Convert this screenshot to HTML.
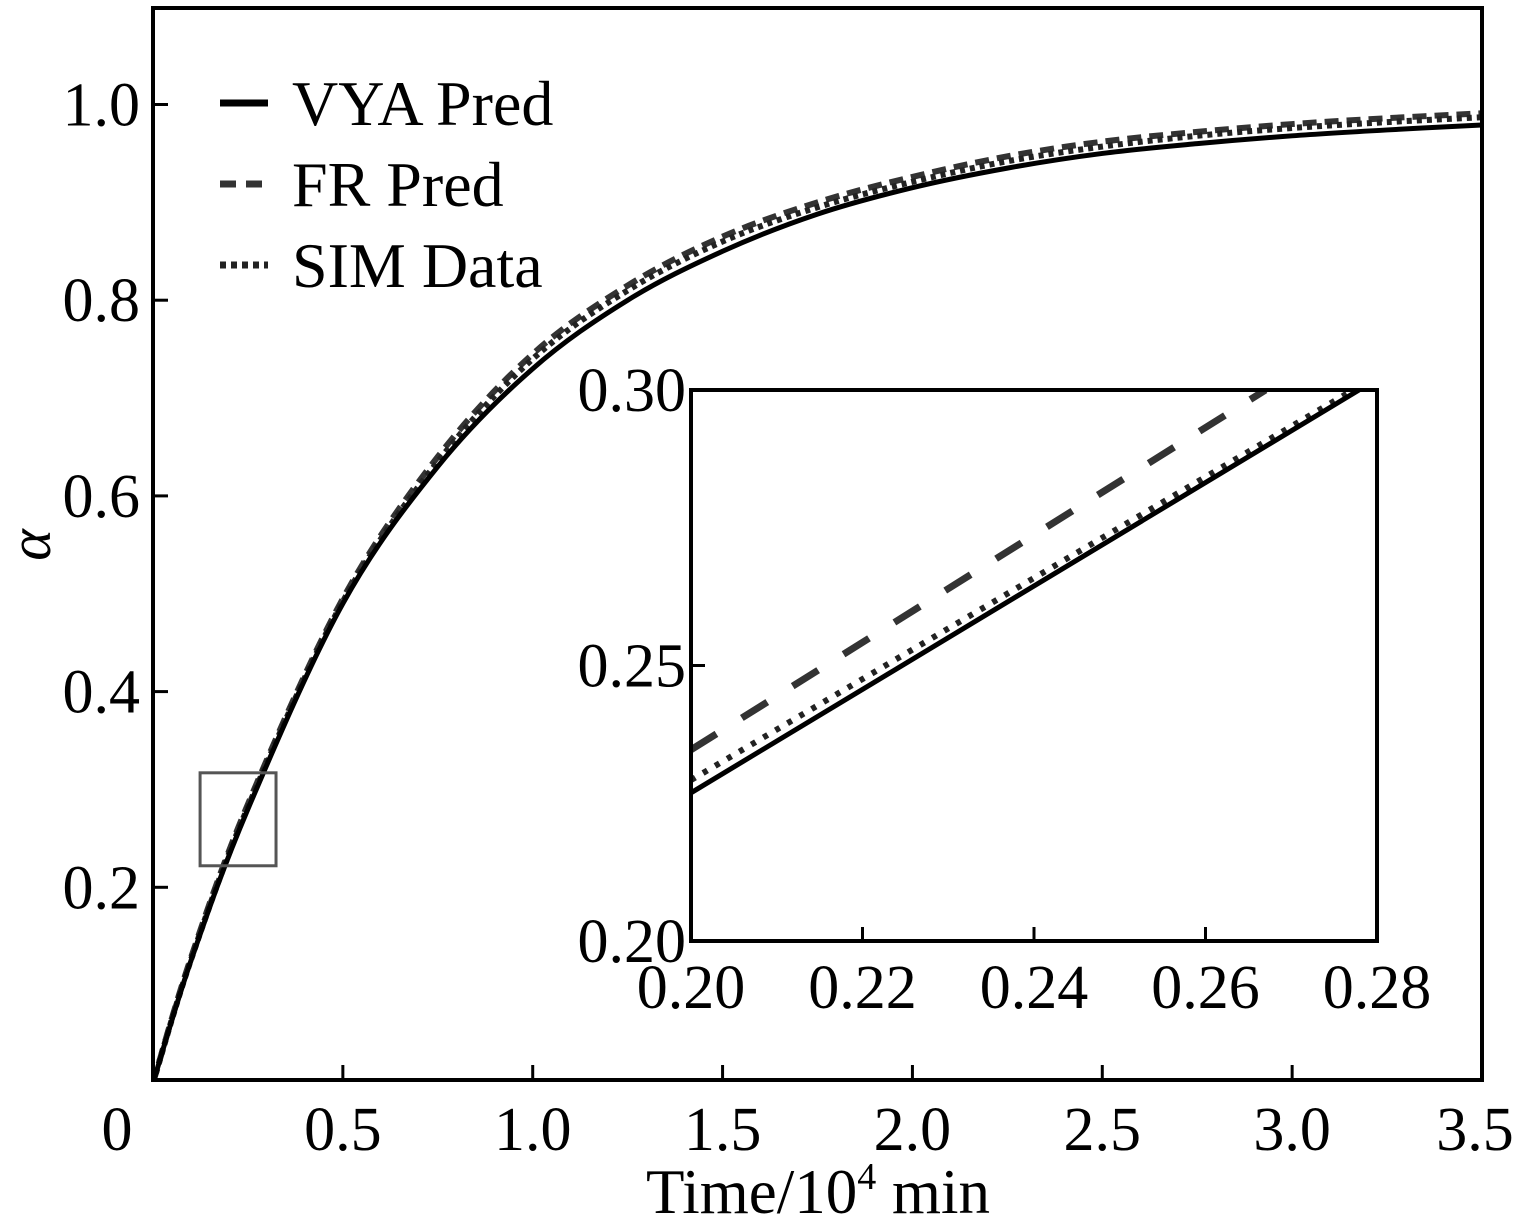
<!DOCTYPE html>
<html><head><meta charset="utf-8"><style>
html,body{margin:0;padding:0;background:#fff;}
svg{display:block;font-family:"Liberation Serif",serif;}
</style></head><body>
<svg id="chart" width="1523" height="1223" viewBox="0 0 1523 1223" xmlns="http://www.w3.org/2000/svg"></svg>
<script>
const times=[0,0.1,0.25,0.5,0.75,1.0,1.25,1.5,1.75,2.0,2.25,2.5,2.75,3.0,3.25,3.5];
const vyaVals=[0,0.125,0.28,0.49,0.63,0.73,0.80,0.85,0.888,0.915,0.935,0.950,0.960,0.968,0.974,0.979];
const frVals=[0,0.128,0.285,0.495,0.64,0.745,0.815,0.865,0.90,0.926,0.947,0.962,0.972,0.980,0.986,0.991];
const simVals=[0,0.126,0.282,0.492,0.635,0.74,0.81,0.86,0.895,0.921,0.942,0.957,0.968,0.976,0.982,0.987];
const xTicks=[0,0.5,1.0,1.5,2.0,2.5,3.0,3.5];
const xTickLabels=["0","0.5","1.0","1.5","2.0","2.5","3.0","3.5"];
const yTicks=[0.2,0.4,0.6,0.8,1.0];
const yTickLabels=["0.2","0.4","0.6","0.8","1.0"];
const insetX=[0.20,0.2779];
const insetVya=[0.2269,0.30];
const insetXsim=[0.20,0.2772];
const insetSim=[0.2292,0.30];
const insetXfr=[0.20,0.2670];
const insetFr=[0.2347,0.30];
const insetXTicks=[0.20,0.22,0.24,0.26,0.28];
const insetXTickLabels=["0.20","0.22","0.24","0.26","0.28"];
const insetYTicks=[0.20,0.25,0.30];
const insetYTickLabels=["0.20","0.25","0.30"];
const zoomBox=[0.124,0.324,0.222,0.317];

const NS="http://www.w3.org/2000/svg";
const svg=document.getElementById('chart');
function mk(tag,attrs,parent){const e=document.createElementNS(NS,tag);for(const k in attrs)e.setAttribute(k,attrs[k]);(parent||svg).appendChild(e);return e;}
const L=153,R=1482,T=8,B=1080;
const xs=v=>L+(v/3.5)*(R-L);
const ys=v=>1083-v*978.5;
const defs=mk('defs',{});
const cp=mk('clipPath',{id:'clipMain'},defs);
mk('rect',{x:L,y:T,width:R-L,height:B-T},cp);
const IL=691,IR=1377,IT=390,IB=941;
const cp2=mk('clipPath',{id:'clipInset'},defs);
mk('rect',{x:IL,y:IT,width:IR-IL,height:IB-IT},cp2);
function curve(tx,vals,fx,fy,style,name,g){
  const d=tx.map((t,i)=>(i?'L':'M')+fx(t).toFixed(1)+','+fy(vals[i]).toFixed(1)).join(' ');
  const p=mk('path',Object.assign({d:d,fill:'none'},style),g);
  
  
  return p;
}
function smooth(tx,vals,fx,fy,style,name,g){
  let d='M'+fx(tx[0])+','+fy(vals[0]);
  for(let i=0;i<tx.length-1;i++){
    const x0=fx(tx[Math.max(i-1,0)]),y0=fy(vals[Math.max(i-1,0)]);
    const x1=fx(tx[i]),y1=fy(vals[i]),x2=fx(tx[i+1]),y2=fy(vals[i+1]);
    const x3=fx(tx[Math.min(i+2,tx.length-1)]),y3=fy(vals[Math.min(i+2,tx.length-1)]);
    d+=` C${x1+(x2-x0)/6},${y1+(y2-y0)/6} ${x2-(x3-x1)/6},${y2-(y3-y1)/6} ${x2},${y2}`;
  }
  const p=mk('path',Object.assign({d:d,fill:'none'},style),g);
  
  
}
const gm=mk('g',{'clip-path':'url(#clipMain)'});
smooth(times,frVals,xs,ys,{stroke:'#333','stroke-width':6,'stroke-dasharray':'14 8'},'fr-pred-line',gm);
smooth(times,simVals,xs,ys,{stroke:'#222','stroke-width':6,'stroke-dasharray':'5 5'},'sim-data-line',gm);
smooth(times,vyaVals,xs,ys,{stroke:'#000','stroke-width':5},'vya-pred-line',gm);
const zb=mk('rect',{x:xs(zoomBox[0]),y:ys(zoomBox[3]),width:xs(zoomBox[1])-xs(zoomBox[0]),height:ys(zoomBox[2])-ys(zoomBox[3]),fill:'none',stroke:'#555','stroke-width':3});


const fr=mk('rect',{x:L,y:T,width:R-L,height:B-T,fill:'none',stroke:'#000','stroke-width':4});


xTicks.forEach((t,i)=>{
  mk('line',{x1:xs(t),x2:xs(t),y1:B,y2:B-15,stroke:'#000','stroke-width':3});
  const tx=mk('text',{x:i==0?117:(i==xTicks.length-1?1475:xs(t)),y:1150,'font-size':62,'text-anchor':'middle'});
  tx.textContent=xTickLabels[i];
  
  
});
yTicks.forEach((t,i)=>{
  mk('line',{x1:L,x2:L+15,y1:ys(t),y2:ys(t),stroke:'#000','stroke-width':3});
  const tx=mk('text',{x:140,y:ys(t)+21,'font-size':62,'text-anchor':'end'});
  tx.textContent=yTickLabels[i];
  
  
});
const xt=mk('text',{x:818,y:1213,'font-size':63,'text-anchor':'middle'});
xt.innerHTML='Time/10<tspan dy="-24" font-size="38">4</tspan><tspan dy="24"> min</tspan>';


const yt=mk('text',{x:0,y:0,'font-size':60,'font-style':'italic','text-anchor':'middle',transform:'translate(50,545) rotate(-90)'});
yt.textContent='α';


const leg=[['VYA Pred',{stroke:'#000','stroke-width':7},125],['FR Pred',{stroke:'#333','stroke-width':7,'stroke-dasharray':'16 10'},206],['SIM Data',{stroke:'#222','stroke-width':7,'stroke-dasharray':'6 5'},287]];
leg.forEach(l=>{
  const g=mk('g',{});
  
  
  mk('line',Object.assign({x1:220,x2:268,y1:l[2]-22,y2:l[2]-22},l[1]),g);
  const t=mk('text',{x:292,y:l[2],'font-size':64},g);t.textContent=l[0];
});
const ixs=v=>IL+(v-0.20)/0.08*(IR-IL);
const iys=v=>IB-(v-0.20)/0.10*(IB-IT);
const ig=mk('g',{});


mk('rect',{x:IL,y:IT,width:IR-IL,height:IB-IT,fill:'#fff'},ig);
const igc=mk('g',{'clip-path':'url(#clipInset)'},ig);
curve(insetXfr,insetFr,ixs,iys,{stroke:'#333','stroke-width':7,'stroke-dasharray':'30 30'},'inset-fr-line',igc);
curve(insetXsim,insetSim,ixs,iys,{stroke:'#222','stroke-width':6,'stroke-dasharray':'5 9'},'inset-sim-line',igc);
curve(insetX,insetVya,ixs,iys,{stroke:'#000','stroke-width':5},'inset-vya-line',igc);
mk('rect',{x:IL,y:IT,width:IR-IL,height:IB-IT,fill:'none',stroke:'#000','stroke-width':4},ig);
insetXTicks.forEach((t,i)=>{
  mk('line',{x1:ixs(t),x2:ixs(t),y1:IB,y2:IB-14,stroke:'#000','stroke-width':3},ig);
  const tx=mk('text',{x:ixs(t),y:1008,'font-size':62,'text-anchor':'middle'},ig);
  tx.textContent=insetXTickLabels[i];
  
  
});
insetYTicks.forEach((t,i)=>{
  mk('line',{x1:IL,x2:IL+14,y1:iys(t),y2:iys(t),stroke:'#000','stroke-width':3},ig);
  const tx=mk('text',{x:686,y:iys(t)+21,'font-size':62,'text-anchor':'end'},ig);
  tx.textContent=insetYTickLabels[i];
  
  
});
</script>
</body></html>
